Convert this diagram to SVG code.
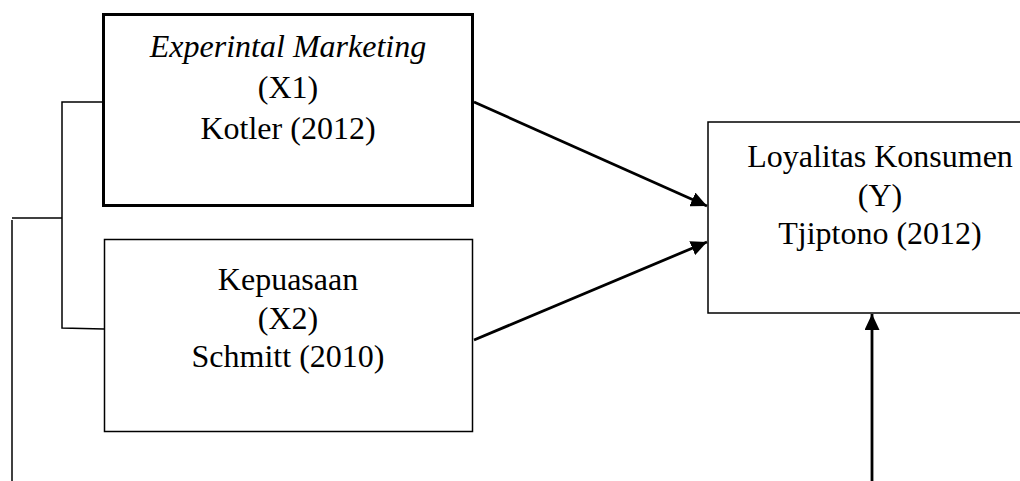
<svg xmlns="http://www.w3.org/2000/svg" width="1020" height="481" viewBox="0 0 1020 481">
<defs>
<style>
text{font-family:'Liberation Serif','Times New Roman','DejaVu Serif',serif;font-size:32px;fill:#000;text-anchor:middle}
.it{font-style:italic}
.box{fill:#fff;stroke:#000}
.ln{fill:none;stroke:#000;stroke-width:1.5}
.ar{fill:none;stroke:#000;stroke-width:2.8}
</style>
<marker id="ah" viewBox="0 0 16 15" refX="16" refY="7.5" markerWidth="16" markerHeight="15" markerUnits="userSpaceOnUse" orient="auto">
<path d="M0,0 L16,7.5 L0,15 z" fill="#000"/>
</marker>
</defs>
<g id="connectors">
<polyline class="ln" points="104,102 62,102 62,328 104,329"/>
<polyline class="ln" points="62,218 12,218"/>
<line class="ln" x1="12" y1="220" x2="12" y2="481"/>
<line class="ar" x1="474" y1="102" x2="707" y2="206" marker-end="url(#ah)"/>
<line class="ar" x1="474" y1="340" x2="707" y2="242" marker-end="url(#ah)"/>
<line class="ar" x1="872" y1="481" x2="872" y2="314" marker-end="url(#ah)"/>
</g>
<g id="x1" font-family="Liberation Serif, serif">
<rect class="box" x="103.5" y="14.5" width="369" height="191" stroke-width="3"/>
<text class="it" x="288" y="57">Experintal Marketing</text>
<text x="288" y="98">(X1)</text>
<text x="288" y="139">Kotler (2012)</text>
</g>
<g id="x2" font-family="Liberation Serif, serif">
<rect class="box" x="104.5" y="239.5" width="368" height="192" stroke-width="1.5"/>
<text x="288" y="290">Kepuasaan</text>
<text x="288" y="329">(X2)</text>
<text x="288" y="367">Schmitt (2010)</text>
</g>
<g id="y" font-family="Liberation Serif, serif">
<rect class="box" x="708" y="122" width="340" height="191" stroke-width="1.5"/>
<text x="880" y="167">Loyalitas Konsumen</text>
<text x="880" y="206">(Y)</text>
<text x="880" y="244">Tjiptono (2012)</text>
</g>
</svg>
